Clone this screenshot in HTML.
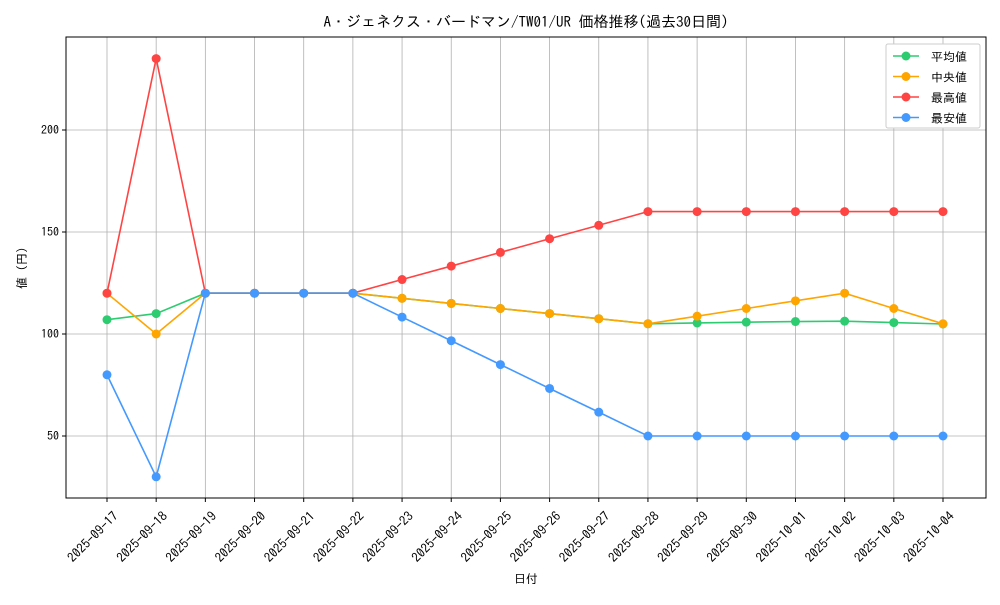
<!DOCTYPE html>
<html><head><meta charset="utf-8"><style>
body{margin:0;background:#fff}
svg text{font-family:"IPAGothic","Liberation Sans","Noto Sans CJK JP",sans-serif;fill:#000}
</style></head><body>
<svg id="chart" width="1000" height="600" xmlns="http://www.w3.org/2000/svg">
<text x="526" y="27" text-anchor="middle" font-size="15">A・ジェネクス・バードマン/TW01/UR 価格推移(過去30日間)</text>
<g id="grid"></g><g id="axes"></g><g id="series"></g>
<text x="526" y="583" text-anchor="middle" font-size="12">日付</text>
<text transform="translate(26,268) rotate(-90)" text-anchor="middle" font-size="12">値 (円)</text>
<g>
<rect x="886" y="44" width="94" height="84" fill="#fff" stroke="#ccc" rx="2"/>
</g>
<g id="legend"></g>
</svg>
<script>
const categories=["2025-09-17","2025-09-18","2025-09-19","2025-09-20","2025-09-21","2025-09-22","2025-09-23","2025-09-24","2025-09-25","2025-09-26","2025-09-27","2025-09-28","2025-09-29","2025-09-30","2025-10-01","2025-10-02","2025-10-03","2025-10-04"];
const avgValues=[107,110,120,120,120,120,117.5,115,112.5,110,107.5,105,105.4,105.8,106.1,106.3,105.6,104.9];
const medianValues=[120,100,120,120,120,120,117.5,115,112.5,110,107.5,105,108.75,112.5,116.25,120,112.5,105];
const maxValues=[120,235,120,120,120,120,126.7,133.3,140,146.7,153.3,160,160,160,160,160,160,160];
const minValues=[80,30,120,120,120,120,108.3,96.7,85,73.3,61.7,50,50,50,50,50,50,50];
const yTicks=[50,100,150,200];
const seriesNames=["平均値","中央値","最高値","最安値"];
const NS="http://www.w3.org/2000/svg";
const L=66,R=986,T=37,B=498;
const xs=i=>107+i*(943-107)/(categories.length-1);
const ys=v=>334-(v-100)*2.04;
function mk(tag,attrs,parent){const e=document.createElementNS(NS,tag);for(const k in attrs)e.setAttribute(k,attrs[k]);parent.appendChild(e);return e;}
const grid=document.getElementById('grid'),axes=document.getElementById('axes'),ser=document.getElementById('series'),leg=document.getElementById('legend');
categories.forEach((c,i)=>{
 const g=mk('line',{x1:xs(i),x2:xs(i),y1:T,y2:B,stroke:'#b0b0b0','stroke-width':0.8},grid);
 
 
 mk('line',{x1:xs(i),x2:xs(i),y1:B,y2:B+4,stroke:'#000'},axes);
 const t=mk('text',{transform:`translate(${xs(i)+12},${B+19}) rotate(-45)`,'text-anchor':'end','font-size':13},axes);
 t.textContent=c;
 
 
});
yTicks.forEach(v=>{
 const g=mk('line',{x1:L,x2:R,y1:ys(v),y2:ys(v),stroke:'#b0b0b0','stroke-width':0.8},grid);
 
 
 mk('line',{x1:L-4,x2:L,y1:ys(v),y2:ys(v),stroke:'#000'},axes);
 const t=mk('text',{x:L-7,y:ys(v)+4,'text-anchor':'end','font-size':12},axes);
 t.textContent=v;
 
 
});
const fr=mk('rect',{x:L,y:T,width:R-L,height:B-T,fill:'none',stroke:'#000','stroke-width':1},axes);


const series=[[avgValues,'#2ecc71','avg'],[medianValues,'#ffa500','median'],[maxValues,'#ff4444','max'],[minValues,'#4499ff','min']];
series.forEach(([vals,col,nm])=>{
 const p=mk('polyline',{points:vals.map((v,i)=>xs(i)+','+ys(v)).join(' '),fill:'none',stroke:col,'stroke-width':1.6},ser);
 
 
 vals.forEach((v,i)=>{
  const c=mk('circle',{cx:xs(i),cy:ys(v),r:4.5,fill:col},ser);
  
  
 });
});
series.forEach(([vals,col,nm],k)=>{
 const y=56+k*20.5;
 mk('line',{x1:893,x2:919,y1:y,y2:y,stroke:col,'stroke-width':1.6},leg);
 mk('circle',{cx:906,cy:y,r:4.5,fill:col},leg);
 const t=mk('text',{x:931,y:y+5,'font-size':12},leg);
 t.textContent=seriesNames[k];
 
 
});
</script>
</body></html>
